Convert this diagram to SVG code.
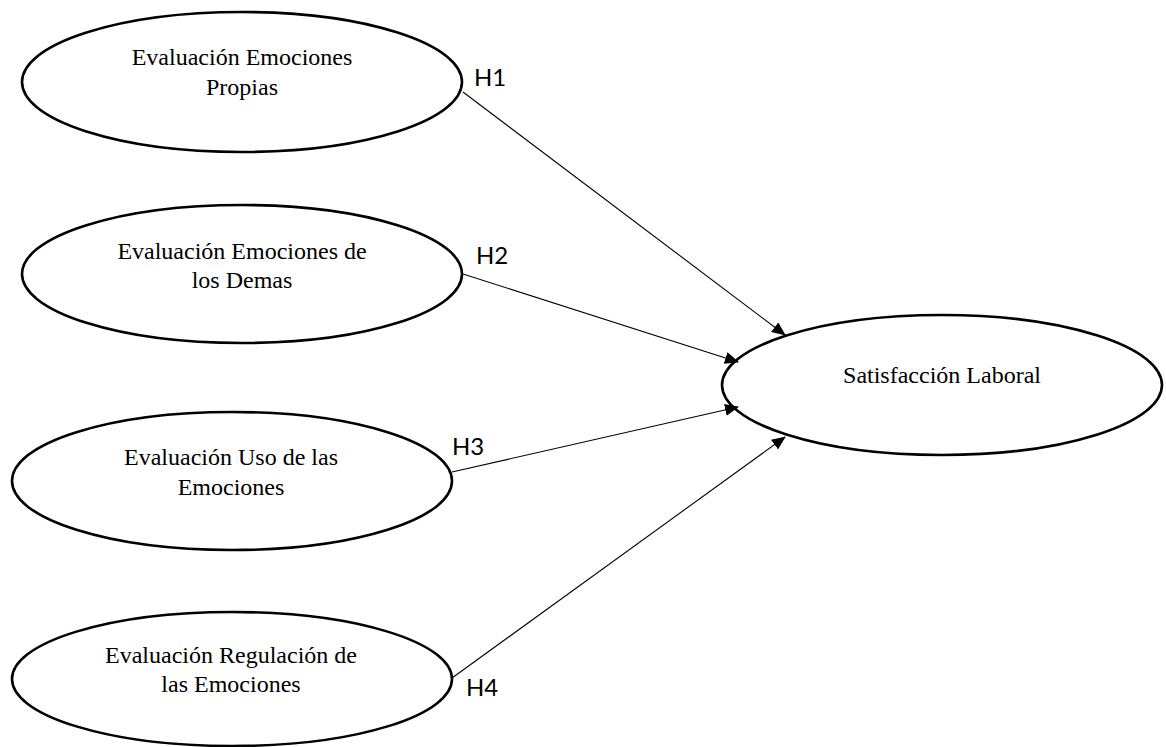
<svg xmlns="http://www.w3.org/2000/svg" width="1166" height="747" viewBox="0 0 1166 747">
<defs>
<style>
.node{fill:#fff;stroke:#000;stroke-width:2.6}
.t{font-family:"Liberation Serif","Times New Roman",serif;font-size:24px;fill:#000;text-anchor:middle}
.h{font-family:Lato,"Open Sans","Liberation Sans",sans-serif;font-size:24px;fill:#000}
.edge{stroke:#000;stroke-width:1.1;fill:none;marker-end:url(#arr)}
</style>
<marker id="arr" markerWidth="14" markerHeight="12" refX="13" refY="6" orient="auto" markerUnits="userSpaceOnUse">
<path d="M0,0 L14,6 L0,12 Z" fill="#000"/>
</marker>
</defs>
<rect width="1166" height="747" fill="#fff"/>
<g id="n1">
<ellipse class="node" cx="242" cy="82" rx="220" ry="70"/>
<text class="t" x="242" y="65">Evaluación Emociones</text>
<text class="t" x="242" y="95">Propias</text>
</g>
<g id="n2">
<ellipse class="node" cx="242" cy="274" rx="220" ry="69"/>
<text class="t" x="242" y="259">Evaluación Emociones de</text>
<text class="t" x="242" y="288">los Demas</text>
</g>
<g id="n3">
<ellipse class="node" cx="232" cy="481" rx="220" ry="69"/>
<text class="t" x="231" y="465">Evaluación Uso de las</text>
<text class="t" x="231" y="495">Emociones</text>
</g>
<g id="n4">
<ellipse class="node" cx="232" cy="679" rx="220" ry="67"/>
<text class="t" x="231" y="663">Evaluación Regulación de</text>
<text class="t" x="231" y="692">las Emociones</text>
</g>
<g id="n5">
<ellipse class="node" cx="942" cy="385" rx="220" ry="70"/>
<text class="t" x="942" y="383">Satisfacción Laboral</text>
</g>
<g id="connectors">
<line class="edge" x1="463" y1="92" x2="785" y2="335"/>
<line class="edge" x1="463" y1="274" x2="738" y2="362"/>
<line class="edge" x1="452" y1="472" x2="738" y2="407"/>
<line class="edge" x1="452" y1="678" x2="785" y2="437"/>
</g>
<g id="labels">
<text class="h" x="474" y="86">H1</text>
<text class="h" x="476" y="264">H2</text>
<text class="h" x="452" y="455">H3</text>
<text class="h" x="466" y="696">H4</text>
</g>
</svg>
